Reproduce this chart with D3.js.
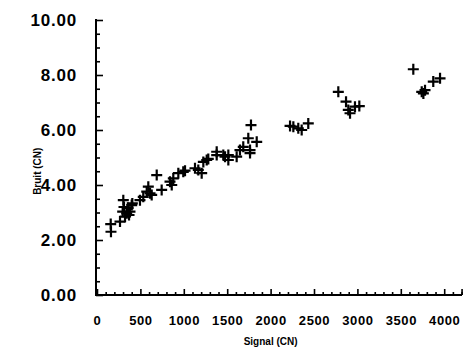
<!DOCTYPE html>
<html><head><meta charset="utf-8">
<script src="https://cdn.jsdelivr.net/npm/d3@7"></script>
<style>body{margin:0;background:#fff}svg{display:block}</style>
</head><body><svg id="c" width="467" height="352"></svg>
<script>
const signal = [158,161,265,303,296,342,380,400,323,407,357,311,369,495,533,573,591,611,630,688,745,841,861,879,937,994,1014,1129,1167,1206,1225,1264,1282,1379,1379,1455,1475,1513,1513,1609,1647,1685,1743,1763,1774,1840,1763,
2224,2262,2319,2358,2434,2780,2869,2895,2915,3022,2972,3644,3741,3779,3760,3874,3952];
const bruit = [2.58,2.30,2.67,3.45,3.03,2.97,3.03,3.27,2.85,3.33,3.16,3.20,2.91,3.45,3.57,3.76,3.94,3.70,3.64,4.36,3.82,4.12,4.00,4.24,4.43,4.48,4.52,4.61,4.55,4.43,4.84,4.91,4.95,5.21,5.09,5.09,5.03,5.09,4.91,5.03,5.27,5.39,5.70,5.27,6.18,5.57,5.16,
6.15,6.12,6.06,6.00,6.24,7.39,7.03,6.73,6.61,6.87,6.85,8.21,7.39,7.45,7.33,7.76,7.88];
const xTicks = [0,500,1000,1500,2000,2500,3000,3500,4000];
const yTicks = [0,2,4,6,8,10];
const xTitle = "Signal (CN)";
const yTitle = "Bruit (CN)";

const svg = d3.select("#c");
const x = d3.scaleLinear().domain([0,4205]).range([97,462]);
const y = d3.scaleLinear().domain([0,10]).range([295,20]);
const font = "'Liberation Sans', Arial, sans-serif";

const xMinor = d3.range(100,4201,100).filter(v=>v%500!==0);
const yMinor = d3.range(0.5,10,0.5).filter(v=>v%2!==0);

const gx = svg.append("g").attr("transform","translate(0,295)");
gx.call(d3.axisBottom(x).tickValues(xMinor).tickSize(-3).tickSizeOuter(0).tickFormat(""));
gx.append("g").call(d3.axisBottom(x).tickValues(xTicks.concat([4200])).tickSize(-6).tickSizeOuter(0).tickFormat(d=>d===4200?"":d));
gx.selectAll("path.domain").attr("d","M95,0H462").attr("stroke","#000").attr("stroke-width",2);
gx.selectAll("line").attr("stroke","#000").attr("stroke-width",1.6);
gx.selectAll("text").attr("font-family",font).attr("font-weight","bold").attr("font-size",13)
  .attr("letter-spacing","0.6px").attr("fill","#000").attr("y",21).attr("dy","0.71em");

const gy = svg.append("g").attr("transform","translate(96,0)");
gy.call(d3.axisLeft(y).tickValues(yMinor).tickSize(-4).tickSizeOuter(0).tickFormat(""));
gy.append("g").call(d3.axisLeft(y).tickValues(yTicks).tickSize(-7).tickSizeOuter(0).tickFormat(d3.format(".2f")));
gy.selectAll("path.domain").attr("d","M0,19V296").attr("stroke","#000").attr("stroke-width",2);
gy.selectAll("line").attr("stroke","#000").attr("stroke-width",1.6);
gy.selectAll("text").attr("font-family",font).attr("font-weight","bold").attr("font-size",17)
  .attr("letter-spacing","0.8px").attr("fill","#000").attr("x",-19);

svg.append("text").attr("x",x(2000)).attr("y",345).attr("text-anchor","middle")
  .attr("font-family",font).attr("font-weight","bold").attr("font-size",10).text(xTitle);
svg.append("text").attr("transform","translate(41,"+y(4.5)+") rotate(-90)").attr("text-anchor","middle")
  .attr("font-family",font).attr("font-weight","bold").attr("font-size",10).text(yTitle);

svg.append("g").selectAll("path").data(signal.map((s,i)=>[s,bruit[i]])).join("path")
  .attr("transform",d=>`translate(${x(d[0])},${y(d[1])})`)
  .attr("d","M-5.5,0H5.5M0,-5.5V5.5").attr("stroke","#000").attr("stroke-width",2.2).attr("fill","none");
</script></body></html>
